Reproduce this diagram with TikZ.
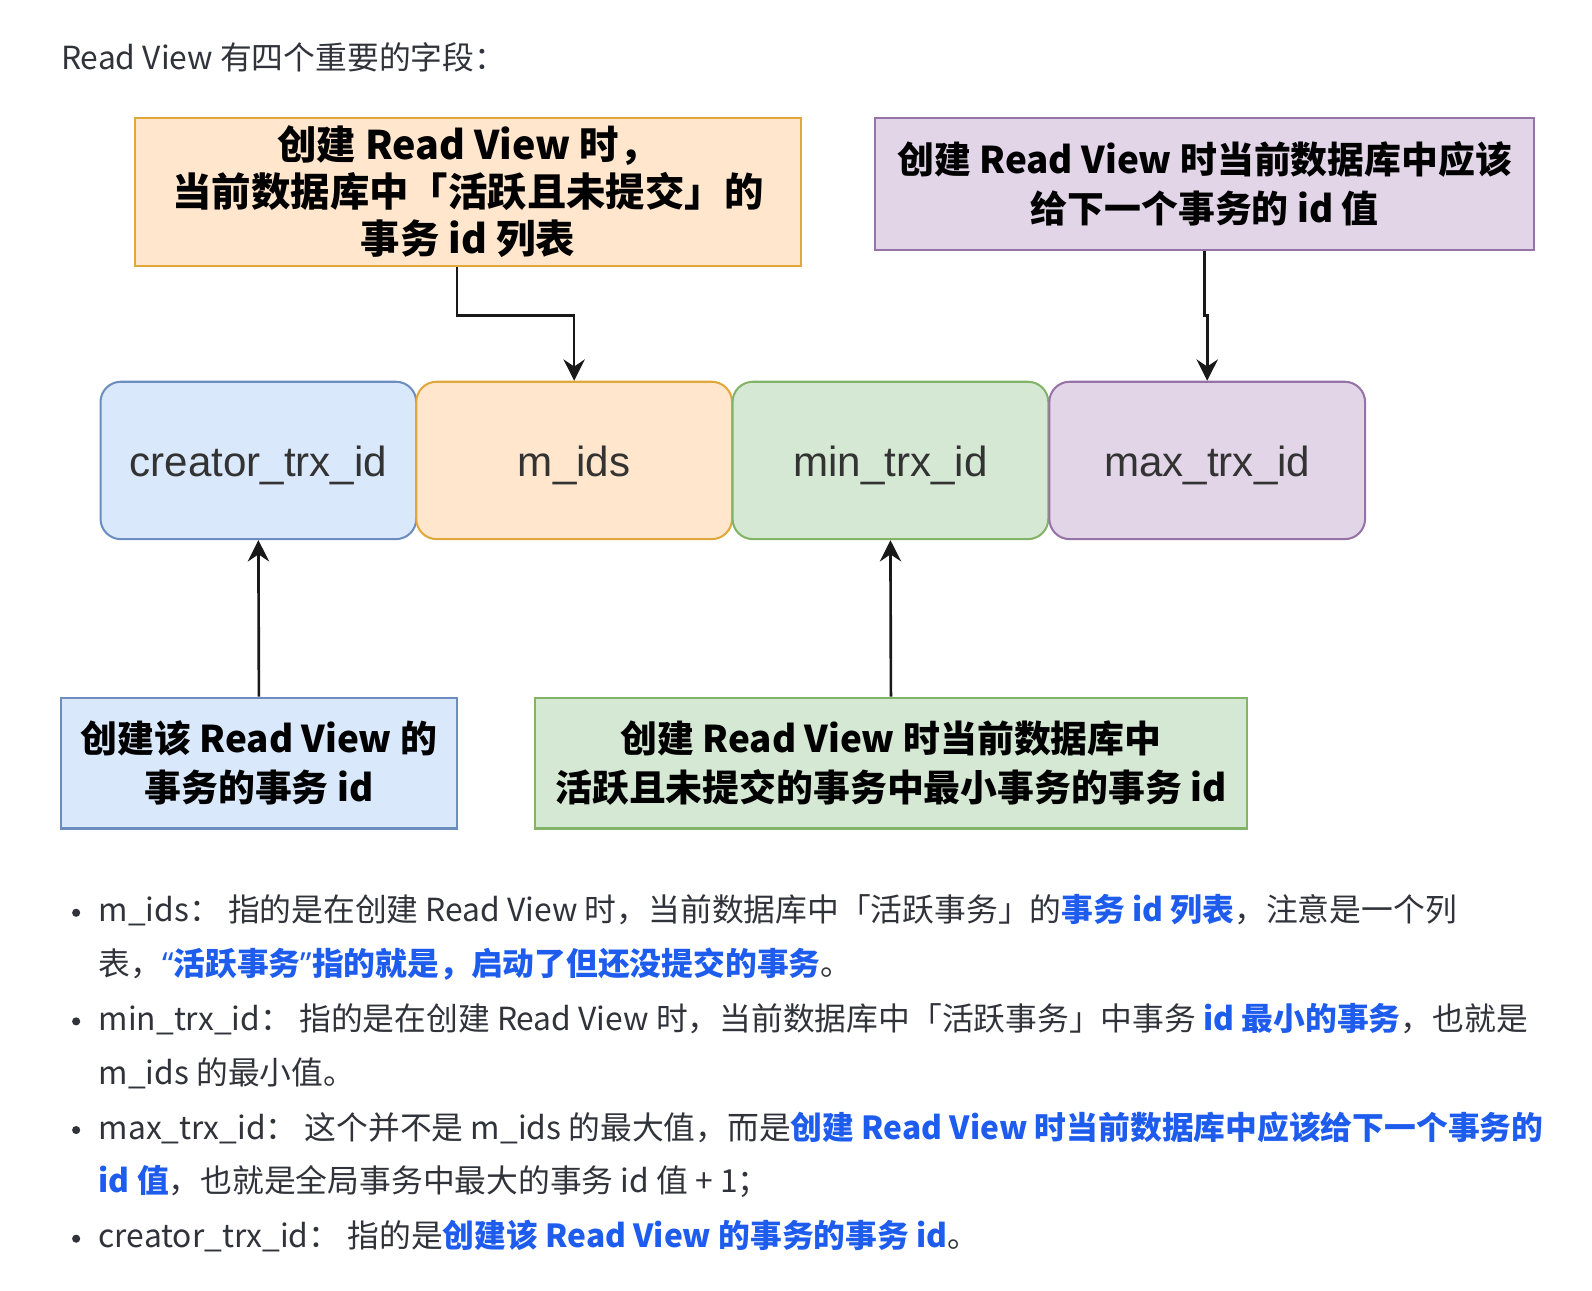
\documentclass[tikz,border=0pt]{standalone}
\usepackage{fontspec}
\setmainfont{Noto Sans CJK SC}
\newfontfamily\hel{Liberation Sans}
\newfontfamily\latq{Noto Sans}
\usetikzlibrary{arrows.meta}
\definecolor{txt}{RGB}{48,52,58}
\definecolor{hl}{RGB}{30,92,238}
\definecolor{fieldtxt}{RGB}{51,51,51}
\definecolor{bluefill}{HTML}{DAE8FC}\definecolor{blueline}{HTML}{6C8EBF}
\definecolor{orfill}{HTML}{FFE6CC}\definecolor{orline}{HTML}{E0A83A}
\definecolor{grfill}{HTML}{D5E8D4}\definecolor{grline}{HTML}{82B366}
\definecolor{pufill}{HTML}{E1D5E7}\definecolor{puline}{HTML}{9673A6}
\newcommand{\hb}[1]{{\color{hl}\bfseries #1}}
\begin{document}
\begin{tikzpicture}[x=1pt,y=-1pt,
  topbox/.style={draw, line width=2pt, inner sep=0pt, align=center,
    font=\fontsize{36.3}{49}\selectfont\bfseries, text=black},
  field/.style={draw, line width=2pt, rounded corners=20pt, minimum width=311pt,
    minimum height=155pt, inner sep=0pt, text height=36pt, text depth=5pt,
    font=\hel\fontsize{41.5}{48}\selectfont, text=fieldtxt},
  arr/.style={-{Stealth[length=21pt,width=21pt,inset=7pt]}, line width=2.6pt, black!90},
  body/.style={anchor=base west, inner sep=0pt, font=\fontsize{31.3}{36}\selectfont, text=txt},
  dot/.style={circle, fill=txt, inner sep=0pt, minimum size=8pt}]
\useasboundingbox (0,0) rectangle (1568,1271);
\fill[white] (0,0) rectangle (1568,1271);

% title
\node[body] (title) at (60,68) {Read View 有四个重要的字段：};

% top boxes
\node[topbox, fill=orfill, draw=orline, minimum width=656pt, minimum height=146pt,
  font=\fontsize{38.8}{46.5}\selectfont\bfseries] (orange) at (461,189)
  {创建 Read View 时，\\当前数据库中「活跃且未提交」的\\事务 id 列表};
\node[topbox, fill=pufill, draw=puline, minimum width=649pt, minimum height=130pt] (purple) at (1186.5,181)
  {创建 Read View 时当前数据库中应该\\给下一个事务的 id 值};

% field row
\node[field, fill=bluefill, draw=blueline] (creator) at (254.5,453.5) {creator\_trx\_id};
\node[field, fill=orfill, draw=orline] (mids) at (565.5,453.5) {m\_ids};
\node[field, fill=grfill, draw=grline] (minid) at (877,453.5) {min\_trx\_id};
\node[field, fill=pufill, draw=puline] (maxid) at (1189,453.5) {max\_trx\_id};

% bottom boxes
\node[topbox, fill=bluefill, draw=blueline, minimum width=390pt, minimum height=129pt] (bluebox) at (255,751.5)
  {创建该 Read View 的\\事务的事务 id};
\node[topbox, fill=grfill, draw=grline, minimum width=701pt, minimum height=129pt] (greenbox) at (877.5,751.5)
  {创建 Read View 时当前数据库中\\活跃且未提交的事务中最小事务的事务 id};

% connectors
\draw[arr] ([xshift=-11pt]orange.south) -- ++(0,48) -| (mids.north);
\draw[arr] (purple.south) -- ++(0,64) -| (maxid.north);
\draw[arr] (bluebox.north) -- (creator.south);
\draw[arr] (greenbox.north) -- (minid.south);

% bullets
\node[dot] (d1) at (75,899) {};
\node[dot] (d2) at (75,1006) {};
\node[dot] (d3) at (75,1113) {};
\node[dot] (d4) at (75,1220) {};
\node[body] (l1) at (97,908) {m\_ids： 指的是在创建 Read View 时，当前数据库中「活跃事务」的\hb{事务 id 列表}，注意是一个列};
\node[body] (l2) at (97,961) {表，\hb{{\latq “}活跃事务{\latq ”}指的就是，启动了但还没提交的事务}。};
\node[body] (l3) at (97,1015) {min\_trx\_id： 指的是在创建 Read View 时，当前数据库中「活跃事务」中事务 \hb{id 最小的事务}，也就是};
\node[body] (l4) at (97,1068) {m\_ids 的最小值。};
\node[body] (l5) at (97,1122) {max\_trx\_id： 这个并不是 m\_ids 的最大值，而是\hb{创建 Read View 时当前数据库中应该给下一个事务的}};
\node[body] (l6) at (97,1175) {\hb{id 值}，也就是全局事务中最大的事务 id 值 + 1；};
\node[body] (l7) at (97,1229) {creator\_trx\_id： 指的是\hb{创建该 Read View 的事务的事务 id}。};
\end{tikzpicture}
\end{document}
